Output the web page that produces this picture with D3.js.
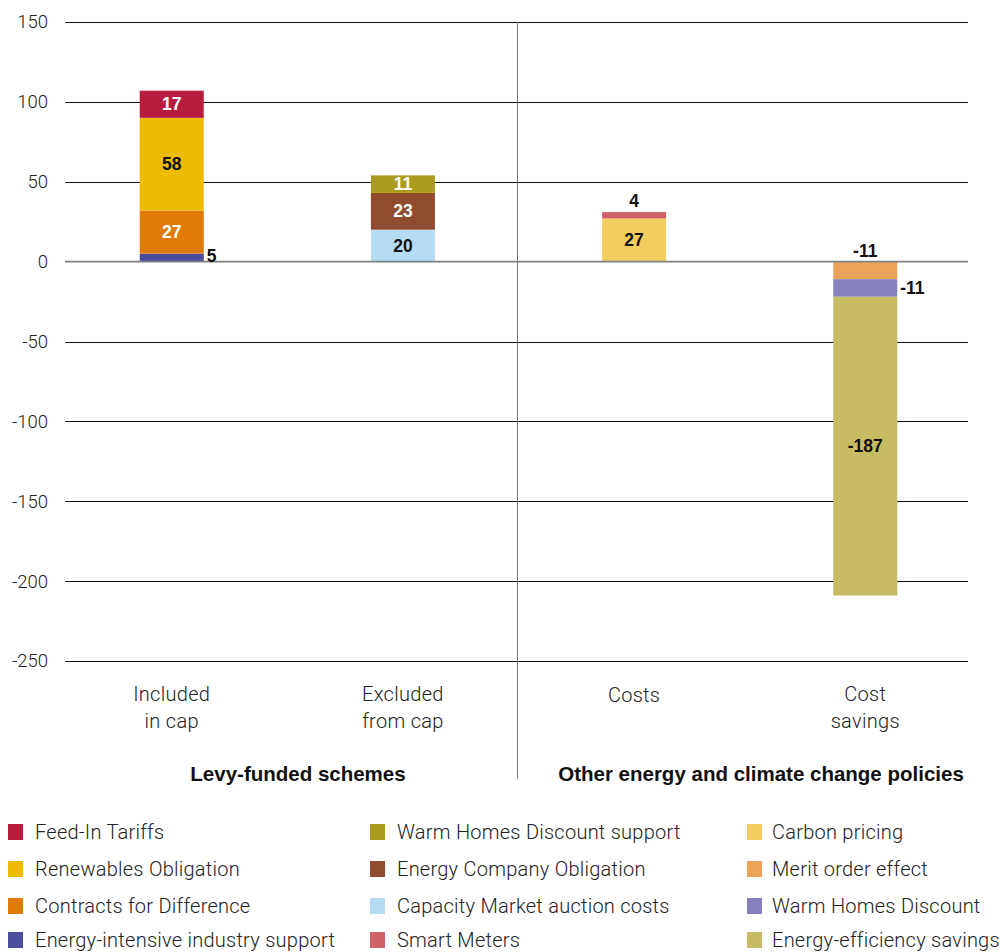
<!DOCTYPE html>
<html>
<head>
<meta charset="utf-8">
<script src="https://cdn.jsdelivr.net/npm/d3@7"></script>
<style>
  html, body { margin: 0; padding: 0; background: #fff; }
  svg { display: block; }
</style>
</head>
<body>
<svg id="chart" width="1000" height="952"></svg>
<script>
// Categories along the x axis (label lines)
const categories = ["Included in cap", "Excluded from cap", "Costs", "Cost savings"];
const categoryLines = [["Included", "in cap"], ["Excluded", "from cap"], ["Costs"], ["Cost", "savings"]];

// Series (stack order bottom → top / outward from zero)
const seriesNames = [
  "Energy-intensive industry support", "Contracts for Difference", "Renewables Obligation", "Feed-In Tariffs",
  "Capacity Market auction costs", "Energy Company Obligation", "Warm Homes Discount support",
  "Carbon pricing", "Smart Meters",
  "Merit order effect", "Warm Homes Discount", "Energy-efficiency savings"
];
const seriesCategory = [0, 0, 0, 0, 1, 1, 1, 2, 2, 3, 3, 3];
const seriesValues = [5, 27, 58, 17, 20, 23, 11, 27, 4, -11, -11, -187];
const seriesColors = [
  "#4b4c9e", "#e07b0a", "#edbc00", "#b81d40",
  "#b5dcf3", "#914c30", "#ab9c1f",
  "#f3cd5e", "#d16169",
  "#eba259", "#8680bc", "#c7bb63"
];
// where each value label sits: in = inside bar, right = beside bar, above = over bar
const labelPlace = ["right", "in", "in", "in", "in", "in", "in", "in", "above", "above", "right", "in"];
const labelDark = [true, false, true, false, true, false, false, true, true, true, true, true];

const yTicks = [150, 100, 50, 0, -50, -100, -150, -200, -250];

// Legend layout: columns of series names
const legendColumns = [
  ["Feed-In Tariffs", "Renewables Obligation", "Contracts for Difference", "Energy-intensive industry support"],
  ["Warm Homes Discount support", "Energy Company Obligation", "Capacity Market auction costs", "Smart Meters"],
  ["Carbon pricing", "Merit order effect", "Warm Homes Discount", "Energy-efficiency savings"]
];
const groupTitles = ["Levy-funded schemes", "Other energy and climate change policies"];

const svg = d3.select("#chart");
const lightFont = "Roboto, 'Liberation Sans', Arial, sans-serif";
const boldFont = "'Liberation Sans', Arial, sans-serif";

const y = d3.scaleLinear().domain([-250, 150]).range([661, 22]);
const x = d3.scaleBand().domain(categories).range([56.5, 980.5]).paddingInner(0.723).paddingOuter(0.36);

// gridlines
svg.append("g").selectAll("line").data(yTicks.filter(d => d !== 0)).join("line")
  .attr("x1", 65).attr("x2", 968)
  .attr("y1", d => Math.round(y(d)) + 0.5).attr("y2", d => Math.round(y(d)) + 0.5)
  .attr("stroke", "#111").attr("stroke-width", 1);

// y axis tick labels
const yAxis = d3.axisLeft(y).tickValues(yTicks).tickSize(0).tickPadding(0).tickFormat(d => String(d));
const ya = svg.append("g").attr("transform", "translate(48,0)").call(yAxis);
ya.select(".domain").remove();
ya.selectAll("text").attr("font-family", lightFont).attr("font-weight", 300)
  .attr("font-size", 18.5).attr("fill", "#222");

// divider between groups
svg.append("line").attr("x1", 517.5).attr("x2", 517.5).attr("y1", 22).attr("y2", 779)
  .attr("stroke", "#777").attr("stroke-width", 1);

// compute stacked segments
const posAcc = [0, 0, 0, 0], negAcc = [0, 0, 0, 0];
const segs = seriesValues.map((v, i) => {
  const c = seriesCategory[i];
  let y0, y1;
  if (v >= 0) { y0 = posAcc[c]; y1 = y0 + v; posAcc[c] = y1; }
  else { y0 = negAcc[c]; y1 = y0 + v; negAcc[c] = y1; }
  return { i, c, v, y0, y1, name: seriesNames[i] };
});

svg.append("g").selectAll("rect").data(segs).join("rect")
  .attr("x", d => x(categories[d.c]))
  .attr("width", x.bandwidth())
  .attr("y", d => y(Math.max(d.y0, d.y1)))
  .attr("height", d => Math.abs(y(d.y0) - y(d.y1)))
  .attr("fill", d => seriesColors[d.i]);

// zero line
svg.append("line").attr("x1", 65).attr("x2", 968).attr("y1", y(0)).attr("y2", y(0))
  .attr("stroke", "#808080").attr("stroke-width", 1.8);

// value labels
svg.append("g").selectAll("text").data(segs).join("text")
  .attr("font-family", boldFont).attr("font-weight", "bold").attr("font-size", 17.5)
  .attr("fill", d => labelDark[d.i] ? "#111" : "#fff")
  .attr("text-anchor", d => labelPlace[d.i] === "right" ? "start" : "middle")
  .attr("dominant-baseline", "central")
  .attr("x", d => {
    const cx = x(categories[d.c]);
    return labelPlace[d.i] === "right" ? cx + x.bandwidth() + 3 : cx + x.bandwidth() / 2;
  })
  .attr("y", d => {
    const place = labelPlace[d.i];
    if (place === "above") {
      return (d.v >= 0 ? y(d.y1) : y(0)) - 11;
    }
    if (place === "right" && d.v >= 0) return y(d.y0) - 6;
    return (y(d.y0) + y(d.y1)) / 2;
  })
  .text(d => d.v);

// category labels
const cat = svg.append("g").selectAll("text").data(categories).join("text")
  .attr("font-family", lightFont).attr("font-weight", 300).attr("font-size", 20)
  .attr("letter-spacing", 0.3)
  .attr("fill", "#222").attr("text-anchor", "middle")
  .attr("x", d => x(d) + x.bandwidth() / 2)
  .attr("y", 701);
cat.each(function(d, i) {
  const lines = categoryLines[i];
  const t = d3.select(this);
  lines.forEach((l, j) => {
    t.append("tspan").attr("x", x(d) + x.bandwidth() / 2)
      .attr("dy", j === 0 ? (lines.length === 1 ? 1 : 0) : 27).text(l);
  });
});

// group titles
svg.append("g").selectAll("text").data(groupTitles).join("text")
  .attr("font-family", boldFont).attr("font-weight", "bold").attr("font-size", 20.5)
  .attr("fill", "#111").attr("text-anchor", "middle")
  .attr("x", (d, i) => i === 0 ? 298 : 761)
  .attr("y", 781)
  .text(d => d);

// legend
const colX = [8, 370, 747];
const textX = [35, 397, 772];
const rowY = [832, 869, 906, 940];
legendColumns.forEach((col, ci) => {
  col.forEach((name, ri) => {
    const idx = seriesNames.indexOf(name);
    svg.append("rect").attr("x", colX[ci]).attr("y", rowY[ri] - 8)
      .attr("width", 15).attr("height", 16).attr("fill", seriesColors[idx]);
    svg.append("text").attr("x", textX[ci]).attr("y", rowY[ri])
      .attr("dominant-baseline", "central")
      .attr("font-family", lightFont).attr("font-weight", 300).attr("font-size", 20)
      .attr("letter-spacing", 0.25)
      .attr("fill", "#222").text(name);
  });
});
</script>
</body>
</html>
